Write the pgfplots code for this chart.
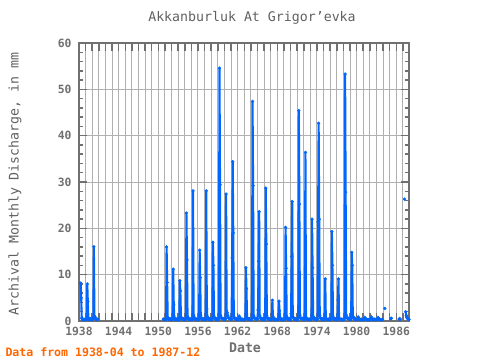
\documentclass[border=0pt]{standalone}
\usepackage{fontspec}
\setmainfont{DejaVu Sans Mono}
\usepackage{pgfplots}
\pgfplotsset{compat=1.18}
\definecolor{axgray}{RGB}{112,112,112}
\definecolor{gridgray}{RGB}{176,176,176}
\definecolor{titlegray}{RGB}{96,96,96}
\definecolor{lineblue}{RGB}{0,102,255}
\definecolor{footorange}{RGB}{255,102,0}
\begin{document}
\begin{tikzpicture}
\path[use as bounding box] (-79bp,-39bp) rectangle (401bp,321bp);
\begin{axis}[
  at={(0,0)}, anchor=south west,
  scale only axis, width=330bp, height=278bp,
  xmin=1938, xmax=1987.917, ymin=0, ymax=60,
  axis line style={axgray, line width=2bp},
  xtick={1938,...,1987},
  xticklabels={1938,,,,,,1944,,,,,,1950,,,,,,1956,,,,,,1962,,,,,,1968,,,,,,1974,,,,,,1980,,,,,,1986,},
  ytick={0,10,...,60},
  minor ytick={2,4,6,8,12,14,16,18,22,24,26,28,32,34,36,38,42,44,46,48,52,54,56,58},
  xmajorgrids, ymajorgrids,
  grid style={gridgray, line width=1bp},
  tick align=inside,
  major tick length=8bp, minor tick length=4bp,
  tick style={axgray, line width=1.5bp},
  tick label style={font=\fontsize{11.4}{12}\selectfont\bfseries, text=axgray},
  xticklabel style={yshift=-3bp},
  yticklabel style={xshift=-4bp},
  /pgf/number format/assume math mode=true,
  /pgf/number format/1000 sep={},
  unbounded coords=jump,
]
\addplot[lineblue, line width=2.1bp, mark=*, mark size=1.4bp, mark options={solid, fill=lineblue, line width=0.5bp}] coordinates {
(1938.250,8.2)(1938.333,5.0)(1938.417,0.6)(1938.500,0.4)(1938.583,0.3)(1938.667,0.3)(1938.750,0.4)(1938.833,0.3)(1938.917,0.3)
(1939.000,0.3)(1939.083,0.3)(1939.167,0.4)(1939.250,8.0)(1939.333,4.2)(1939.417,0.6)(1939.500,0.4)(1939.583,0.3)(1939.667,0.4)(1939.750,0.5)(1939.833,0.4)(1939.917,0.3)
(1940.000,0.3)(1940.083,0.3)(1940.167,0.5)(1940.250,16.0)(1940.333,0.8)(1940.417,0.9)(1940.500,0.5)(1940.583,0.4)(1940.667,0.4)(1940.750,0.4)(1940.833,0.3)
(1941.000,nan)
(1950.750,0.4)(1950.833,0.4)(1950.917,0.3)
(1951.000,0.3)(1951.083,0.3)(1951.167,0.4)(1951.250,16.0)(1951.333,8.3)(1951.417,0.8)(1951.500,0.5)(1951.583,0.4)(1951.667,0.4)(1951.750,0.5)(1951.833,0.4)(1951.917,0.3)
(1952.000,0.3)(1952.083,0.3)(1952.167,0.5)(1952.250,11.2)(1952.333,3.5)(1952.417,0.7)(1952.500,0.4)(1952.583,0.3)(1952.667,0.3)(1952.750,0.4)(1952.833,0.4)(1952.917,0.3)
(1953.000,0.3)(1953.083,0.2)(1953.167,0.4)(1953.250,8.7)(1953.333,6.5)(1953.417,0.9)(1953.500,0.5)(1953.583,0.4)(1953.667,0.4)(1953.750,0.5)(1953.833,0.4)(1953.917,0.3)
(1954.000,0.3)(1954.083,0.3)(1954.167,0.5)(1954.250,23.3)(1954.333,13.2)(1954.417,1.0)(1954.500,0.6)(1954.583,0.4)(1954.667,0.4)(1954.750,0.5)(1954.833,0.4)(1954.917,0.3)
(1955.000,0.3)(1955.083,0.3)(1955.167,0.4)(1955.250,28.1)(1955.333,1.3)(1955.417,0.8)(1955.500,0.5)(1955.583,0.4)(1955.667,0.3)(1955.750,0.4)(1955.833,0.4)(1955.917,0.3)
(1956.000,0.3)(1956.083,0.3)(1956.167,0.5)(1956.250,15.3)(1956.333,9.4)(1956.417,1.1)(1956.500,0.6)(1956.583,0.4)(1956.667,0.4)(1956.750,0.5)(1956.833,0.4)(1956.917,0.3)
(1957.000,0.3)(1957.083,0.3)(1957.167,0.4)(1957.250,28.1)(1957.333,2.6)(1957.417,0.9)(1957.500,0.5)(1957.583,0.4)(1957.667,0.4)(1957.750,0.5)(1957.833,0.4)(1957.917,0.3)
(1958.000,0.3)(1958.083,0.3)(1958.167,0.5)(1958.250,17.0)(1958.333,12.0)(1958.417,1.0)(1958.500,0.6)(1958.583,0.5)(1958.667,0.4)(1958.750,0.5)(1958.833,0.4)(1958.917,0.3)
(1959.000,0.3)(1959.083,0.3)(1959.167,0.6)(1959.250,54.6)(1959.333,29.4)(1959.417,1.2)(1959.500,0.7)(1959.583,0.5)(1959.667,0.5)(1959.750,0.6)(1959.833,0.5)(1959.917,0.4)
(1960.000,0.3)(1960.083,0.3)(1960.167,0.5)(1960.250,27.4)(1960.333,2.2)(1960.417,1.8)(1960.500,1.2)(1960.583,0.7)(1960.667,0.6)(1960.750,0.6)(1960.833,0.5)(1960.917,0.4)
(1961.000,0.4)(1961.083,0.4)(1961.167,13.6)(1961.250,34.4)(1961.333,19.0)(1961.417,1.0)(1961.500,0.6)(1961.583,0.5)(1961.667,0.4)(1961.750,0.5)(1961.833,0.4)(1961.917,0.3)
(1962.000,0.3)(1962.083,0.3)(1962.167,0.4)(1962.250,1.0)(1962.333,0.8)(1962.417,0.5)(1962.500,0.4)(1962.583,0.3)(1962.667,0.3)(1962.750,0.4)(1962.833,0.3)(1962.917,0.3)
(1963.000,0.3)(1963.083,0.3)(1963.167,0.4)(1963.250,11.5)(1963.333,7.0)(1963.417,0.8)(1963.500,0.5)(1963.583,0.4)(1963.667,0.4)(1963.750,0.5)(1963.833,0.4)(1963.917,0.3)
(1964.000,0.3)(1964.083,0.3)(1964.167,0.6)(1964.250,47.4)(1964.333,29.2)(1964.417,1.2)(1964.500,0.7)(1964.583,0.5)(1964.667,0.5)(1964.750,0.6)(1964.833,0.5)(1964.917,0.4)
(1965.000,0.4)(1965.083,2.4)(1965.167,12.9)(1965.250,23.6)(1965.333,1.2)(1965.417,0.8)(1965.500,0.5)(1965.583,0.4)(1965.667,0.4)(1965.750,0.5)(1965.833,0.4)(1965.917,0.3)
(1966.000,0.3)(1966.083,0.3)(1966.167,0.5)(1966.250,28.7)(1966.333,16.6)(1966.417,1.1)(1966.500,0.6)(1966.583,0.5)(1966.667,0.4)(1966.750,0.5)(1966.833,0.4)(1966.917,0.3)
(1967.000,0.3)(1967.083,0.3)(1967.167,0.4)(1967.250,4.5)(1967.333,1.0)(1967.417,0.6)(1967.500,0.4)(1967.583,0.3)(1967.667,0.3)(1967.750,0.4)(1967.833,0.3)(1967.917,0.3)
(1968.000,0.3)(1968.083,0.3)(1968.167,0.4)(1968.250,4.3)(1968.333,2.2)(1968.417,0.7)(1968.500,0.4)(1968.583,0.3)(1968.667,0.3)(1968.750,0.4)(1968.833,0.3)(1968.917,0.3)
(1969.000,0.3)(1969.083,0.3)(1969.167,0.5)(1969.250,20.2)(1969.333,11.4)(1969.417,1.0)(1969.500,0.6)(1969.583,0.4)(1969.667,0.4)(1969.750,0.5)(1969.833,0.4)(1969.917,0.3)
(1970.000,0.3)(1970.083,1.6)(1970.167,13.9)(1970.250,25.8)(1970.333,1.0)(1970.417,0.7)(1970.500,0.5)(1970.583,0.4)(1970.667,0.4)(1970.750,0.5)(1970.833,0.4)(1970.917,0.3)
(1971.000,0.3)(1971.083,0.3)(1971.167,0.6)(1971.250,45.4)(1971.333,25.2)(1971.417,1.3)(1971.500,0.7)(1971.583,0.5)(1971.667,0.5)(1971.750,0.6)(1971.833,0.5)(1971.917,0.4)
(1972.000,0.3)(1972.083,0.3)(1972.167,0.5)(1972.250,36.4)(1972.333,0.8)(1972.417,0.6)(1972.500,0.4)(1972.583,0.4)(1972.667,0.3)(1972.750,0.4)(1972.833,0.4)(1972.917,0.3)
(1973.000,0.3)(1973.083,0.3)(1973.167,0.5)(1973.250,22.0)(1973.333,11.5)(1973.417,1.0)(1973.500,0.6)(1973.583,0.4)(1973.667,0.4)(1973.750,0.5)(1973.833,0.4)(1973.917,0.3)
(1974.000,0.3)(1974.083,0.4)(1974.167,21.4)(1974.250,42.7)(1974.333,22.0)(1974.417,1.2)(1974.500,0.7)(1974.583,0.5)(1974.667,0.4)(1974.750,0.5)(1974.833,0.4)(1974.917,0.3)
(1975.000,0.3)(1975.083,0.3)(1975.167,0.4)(1975.250,9.1)(1975.333,0.6)(1975.417,0.5)(1975.500,0.4)(1975.583,0.3)(1975.667,0.3)(1975.750,0.4)(1975.833,0.3)(1975.917,0.3)
(1976.000,0.3)(1976.083,0.3)(1976.167,0.5)(1976.250,19.3)(1976.333,12.0)(1976.417,0.9)(1976.500,0.5)(1976.583,0.4)(1976.667,0.4)(1976.750,0.5)(1976.833,0.4)(1976.917,0.3)
(1977.000,0.3)(1977.083,0.3)(1977.167,4.5)(1977.250,9.1)(1977.333,0.6)(1977.417,0.5)(1977.500,0.4)(1977.583,0.3)(1977.667,0.3)(1977.750,0.4)(1977.833,0.3)(1977.917,0.3)
(1978.000,0.3)(1978.083,0.3)(1978.167,0.6)(1978.250,53.3)(1978.333,27.8)(1978.417,1.3)(1978.500,0.8)(1978.583,0.6)(1978.667,0.5)(1978.750,0.6)(1978.833,0.5)(1978.917,0.4)
(1979.000,0.3)(1979.083,0.3)(1979.167,0.5)(1979.250,14.8)(1979.333,12.0)(1979.417,1.0)(1979.500,0.9)(1979.583,0.5)(1979.667,0.4)(1979.750,0.5)(1979.833,0.4)(1979.917,0.3)
(1980.000,0.3)(1980.083,0.3)(1980.167,0.4)(1980.250,0.8)(1980.333,0.6)(1980.417,0.4)(1980.500,0.3)(1980.583,0.3)(1980.667,0.3)(1980.750,0.4)(1980.833,0.3)(1980.917,0.3)
(1981.000,0.3)(1981.083,0.3)(1981.167,0.4)(1981.250,0.7)(1981.333,0.5)(1981.417,0.4)(1981.500,0.3)(1981.583,0.3)(1981.667,0.3)(1981.750,0.3)(1981.833,0.3)(1981.917,0.3)
(1982.000,0.3)(1982.083,0.3)(1982.167,0.4)(1982.250,0.8)(1982.333,0.6)(1982.417,0.4)(1982.500,0.3)(1982.583,0.3)(1982.667,0.3)(1982.750,0.4)(1982.833,0.3)(1982.917,0.3)
(1983.000,0.3)(1983.083,0.3)(1983.167,0.4)(1983.250,0.7)(1983.333,0.5)(1983.417,0.4)(1983.500,0.3)(1983.583,0.3)(1983.667,0.3)(1983.750,0.3)(1983.833,0.3)(1983.917,0.3)
(1984.000,nan)
(1984.250,2.7)
(1984.400,nan)
(1985.167,0.5)(1985.250,0.6)
(1985.400,nan)
(1986.417,0.4)(1986.500,0.5)(1986.583,0.4)
(1986.700,nan)
(1987.250,26.3)
(1987.300,nan)
(1987.417,2.0)(1987.500,1.2)(1987.583,0.8)(1987.667,0.6)(1987.750,0.5)(1987.833,0.4)(1987.917,0.3)
};
\end{axis}
\node[font=\fontsize{13.3}{14}\selectfont, text=titlegray] at (173bp,303bp) {Akkanburluk At Grigor’evka};
\node[rotate=90, font=\fontsize{13.3}{14}\selectfont, text=titlegray] at (-64bp,137bp) {Archival Monthly Discharge, in mm};
\node[font=\fontsize{13.3}{14}\selectfont\bfseries, text=axgray] at (166bp,-26.5bp) {Date};
\node[anchor=west, font=\fontsize{11.6}{12}\selectfont\bfseries, text=footorange] at (-77bp,-31bp) {Data from 1938-04 to 1987-12};
\end{tikzpicture}
\end{document}
